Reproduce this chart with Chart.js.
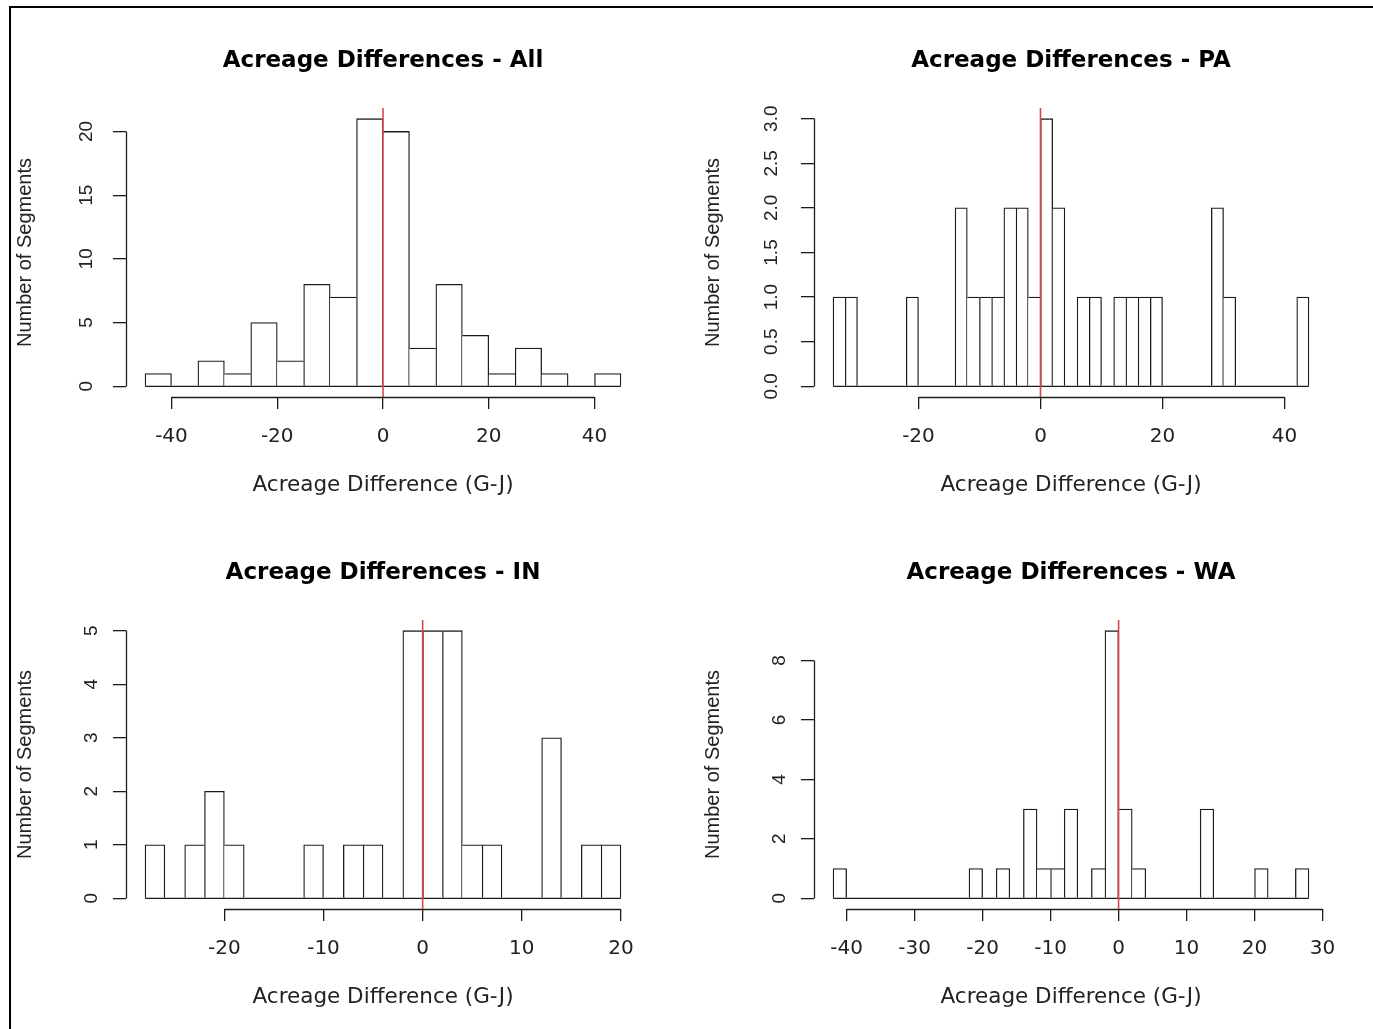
<!DOCTYPE html>
<html>
<head>
<meta charset="utf-8">
<script src="https://cdn.jsdelivr.net/npm/chart.js@4.4.0/dist/chart.umd.min.js"></script>
<style>
    html, body { margin: 0; padding: 0; background: #fff; overflow: hidden; }
    #marco { position: absolute; left: 9px; top: 6px; width: 1400px; height: 1100px; border-left: 2px solid #000; border-top: 2px solid #000; }
    canvas { position: absolute; }
</style>
</head>
<body>
<div id="marco"></div>
<canvas id="hist-all" width="675" height="510" style="left:11px; top:8px;"></canvas>
<canvas id="hist-pa" width="674" height="510" style="left:699px; top:8px;"></canvas>
<canvas id="hist-in" width="675" height="510" style="left:11px; top:520px;"></canvas>
<canvas id="hist-wa" width="674" height="510" style="left:699px; top:520px;"></canvas>
<script>
// Cortes de los intervalos (bordes de cada barra)
const cortesAll = [-45, -40, -35, -30, -25, -20, -15, -10, -5, 0, 5, 10, 15, 20, 25, 30, 35, 40, 45];
const cortesPA = [-34, -32, -30, -28, -26, -24, -22, -20, -18, -16, -14, -12, -10, -8, -6, -4, -2, 0, 2, 4,
    6, 8, 10, 12, 14, 16, 18, 20, 22, 24, 26, 28, 30, 32, 34, 36, 38, 40, 42, 44];
const cortesIN = [-28, -26, -24, -22, -20, -18, -16, -14, -12, -10, -8, -6, -4, -2, 0, 2, 4, 6, 8, 10, 12, 14, 16, 18, 20];
const cortesWA = [-42, -40, -38, -36, -34, -32, -30, -28, -26, -24, -22, -20, -18, -16, -14, -12, -10, -8, -6, -4,
    -2, 0, 2, 4, 6, 8, 10, 12, 14, 16, 18, 20, 22, 24, 26, 28];

// Número de segmentos por intervalo
const conteoAll = [1, 0, 2, 1, 5, 2, 8, 7, 21, 20, 3, 8, 4, 1, 3, 1, 0, 1];
const conteoPA = [1, 1, 0, 0, 0, 0, 1, 0, 0, 0, 2, 1, 1, 1, 2, 2, 1, 3, 2, 0, 1, 1, 0, 1, 1, 1, 1, 0, 0, 0, 0, 2, 1, 0, 0, 0, 0, 0, 1];
const conteoIN = [1, 0, 1, 2, 1, 0, 0, 0, 1, 0, 1, 1, 0, 5, 5, 5, 1, 1, 0, 0, 3, 0, 1, 1];
const conteoWA = [1, 0, 0, 0, 0, 0, 0, 0, 0, 0, 1, 0, 1, 0, 3, 1, 1, 3, 0, 1, 9, 3, 1, 0, 0, 0, 0, 3, 0, 0, 0, 1, 0, 0, 1];

// Marcas de los ejes
const ticksXAll = [-40, -20, 0, 20, 40];
const etiquetasXAll = ['-40', '-20', '0', '20', '40'];
const ticksYAll = [0, 5, 10, 15, 20];
const etiquetasYAll = ['0', '5', '10', '15', '20'];

const ticksXPA = [-20, 0, 20, 40];
const etiquetasXPA = ['-20', '0', '20', '40'];
const ticksYPA = [0, 0.5, 1, 1.5, 2, 2.5, 3];
const etiquetasYPA = ['0.0', '0.5', '1.0', '1.5', '2.0', '2.5', '3.0'];

const ticksXIN = [-20, -10, 0, 10, 20];
const etiquetasXIN = ['-20', '-10', '0', '10', '20'];
const ticksYIN = [0, 1, 2, 3, 4, 5];
const etiquetasYIN = ['0', '1', '2', '3', '4', '5'];

const ticksXWA = [-40, -30, -20, -10, 0, 10, 20, 30];
const etiquetasXWA = ['-40', '-30', '-20', '-10', '0', '10', '20', '30'];
const ticksYWA = [0, 2, 4, 6, 8];
const etiquetasYWA = ['0', '2', '4', '6', '8'];

const colorLinea = '#1c1c1c';
const colorTexto = '#222';
const colorRojo = 'rgb(214, 72, 72)';
const grosor = 1.3;

// Alinea una línea de 1px igual que Chart.js
const alinear = p => Math.round(p - 0.5) + 0.5;

// Dibuja la línea del eje sólo entre la primera y la última marca (estilo R)
const ejeSegmento = {
    id: 'ejeSegmento',
    afterDraw(chart) {
        const ctx = chart.ctx;
        const escX = chart.scales.x;
        const escY = chart.scales.y;
        const area = chart.chartArea;
        ctx.save();
        ctx.strokeStyle = colorLinea;
        ctx.lineWidth = grosor;
        ctx.beginPath();
        const yEje = alinear(area.bottom);
        ctx.moveTo(alinear(escX.getPixelForValue(escX.ticks[0].value)), yEje);
        ctx.lineTo(alinear(escX.getPixelForValue(escX.ticks[escX.ticks.length - 1].value)), yEje);
        const xEje = alinear(area.left);
        ctx.moveTo(xEje, alinear(escY.getPixelForValue(escY.ticks[0].value)));
        ctx.lineTo(xEje, alinear(escY.getPixelForValue(escY.ticks[escY.ticks.length - 1].value)));
        ctx.stroke();
        ctx.restore();
    }
};

function crearHistograma(idCanvas, titulo, cortes, conteo, ticksX, etiquetasX, ticksY, etiquetasY, margenDerecho) {
    const n = cortes.length - 1;
    const rangoX = cortes[n] - cortes[0];
    const xMin = cortes[0] - rangoX * 0.04;
    const xMax = cortes[n] + rangoX * 0.04;
    const maximo = Math.max(...conteo);
    const yMin = -maximo * 0.04;
    const yMax = maximo * 1.04;

    const barras = conteo.map((c, i) => ({ x: (cortes[i] + cortes[i + 1]) / 2, y: c }));

    return new Chart(document.getElementById(idCanvas), {
        type: 'bar',
        data: {
            datasets: [
                {
                    type: 'line',
                    label: 'cero',
                    data: [{ x: 0, y: yMin }, { x: 0, y: yMax }],
                    borderColor: colorRojo,
                    borderWidth: 1.6,
                    pointRadius: 0,
                    order: 0
                },
                {
                    type: 'line',
                    label: 'base',
                    data: [{ x: cortes[0], y: 0 }, { x: cortes[n], y: 0 }],
                    borderColor: colorLinea,
                    borderWidth: grosor,
                    pointRadius: 0,
                    order: 1
                },
                {
                    type: 'bar',
                    label: 'Number of Segments',
                    data: barras,
                    backgroundColor: '#fff',
                    borderColor: colorLinea,
                    borderSkipped: false,
                    // cada borde compartido se dibuja una sola vez, por la barra más alta
                    borderWidth: ctx => {
                        const i = ctx.dataIndex;
                        return {
                            top: grosor,
                            bottom: 0,
                            left: (i === 0 || conteo[i] >= conteo[i - 1]) ? grosor : 0,
                            right: (i === n - 1 || conteo[i] > conteo[i + 1]) ? grosor : 0
                        };
                    },
                    barPercentage: 1,
                    categoryPercentage: 1,
                    order: 2
                }
            ]
        },
        options: {
            responsive: false,
            animation: false,
            layout: { padding: { top: 0, right: margenDerecho, bottom: 0, left: 0 } },
            plugins: {
                legend: { display: false },
                tooltip: { enabled: false },
                title: {
                    display: true,
                    text: titulo,
                    fullSize: false,
                    color: '#000',
                    font: { family: 'DejaVu Sans', size: 23, weight: 'bold' },
                    padding: { top: 39, bottom: 33.4 }
                }
            },
            scales: {
                x: {
                    type: 'linear',
                    min: xMin,
                    max: xMax,
                    bounds: 'data',
                    offset: false,
                    afterBuildTicks: s => { s.ticks = ticksX.map(v => ({ value: v })); },
                    afterFit: s => { s.height = 121; },
                    grid: { drawOnChartArea: false, drawTicks: true, tickLength: 12, color: colorLinea, lineWidth: grosor, offset: false },
                    border: { display: false },
                    ticks: {
                        autoSkip: false,
                        minRotation: 0,
                        maxRotation: 0,
                        padding: 16,
                        color: colorTexto,
                        font: { family: 'DejaVu Sans', size: 20 },
                        callback: (v, i) => etiquetasX[i]
                    },
                    title: {
                        display: true,
                        text: 'Acreage Difference (G-J)',
                        color: colorTexto,
                        font: { family: 'DejaVu Sans', size: 21.5 },
                        padding: { top: 0, bottom: 20 }
                    }
                },
                y: {
                    type: 'linear',
                    min: yMin,
                    max: yMax,
                    bounds: 'data',
                    afterBuildTicks: s => { s.ticks = ticksY.map(v => ({ value: v })); },
                    afterFit: s => { s.width = 115; },
                    grid: { drawOnChartArea: false, drawTicks: true, tickLength: 13, color: colorLinea, lineWidth: grosor },
                    border: { display: false },
                    ticks: {
                        autoSkip: false,
                        minRotation: 90,
                        maxRotation: 90,
                        crossAlign: 'center',
                        padding: 16,
                        color: colorTexto,
                        font: { family: 'Liberation Sans', size: 19 },
                        callback: (v, i) => etiquetasY[i]
                    },
                    title: {
                        display: true,
                        text: 'Number of Segments',
                        color: colorTexto,
                        font: { family: 'Liberation Sans', size: 20 },
                        padding: { top: 2, bottom: 0 }
                    }
                }
            }
        },
        plugins: [ejeSegmento]
    });
}

crearHistograma('hist-all', 'Acreage Differences - All', cortesAll, conteoAll, ticksXAll, etiquetasXAll, ticksYAll, etiquetasYAll, 46);
crearHistograma('hist-pa', 'Acreage Differences - PA', cortesPA, conteoPA, ticksXPA, etiquetasXPA, ticksYPA, etiquetasYPA, 45);
crearHistograma('hist-in', 'Acreage Differences - IN', cortesIN, conteoIN, ticksXIN, etiquetasXIN, ticksYIN, etiquetasYIN, 46);
crearHistograma('hist-wa', 'Acreage Differences - WA', cortesWA, conteoWA, ticksXWA, etiquetasXWA, ticksYWA, etiquetasYWA, 45);
</script>
</body>
</html>
